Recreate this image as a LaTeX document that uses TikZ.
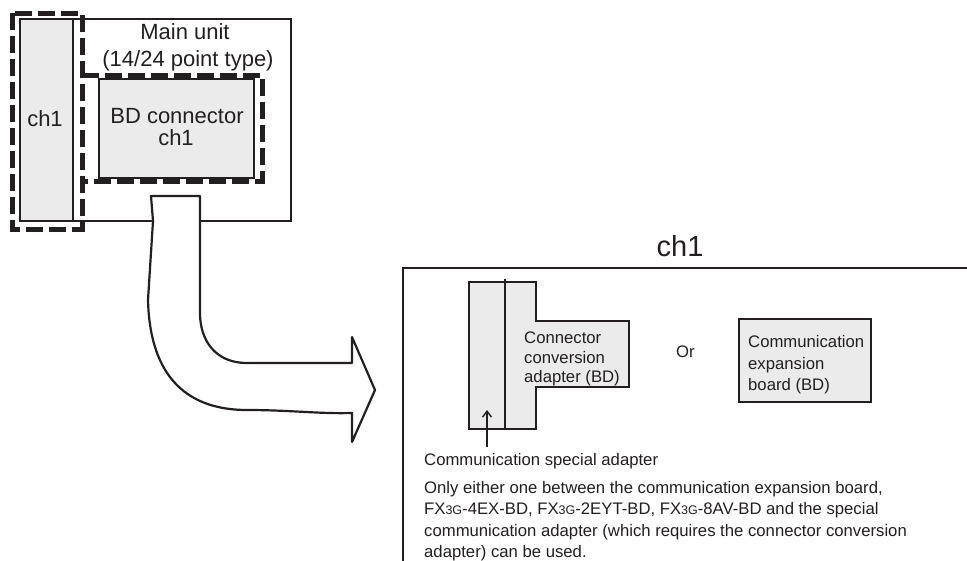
\documentclass[tikz,border=0pt]{standalone}
\usepackage{fontspec}
\setmainfont{Liberation Sans}
\usetikzlibrary{arrows.meta}
\definecolor{ink}{RGB}{35,31,32}
\definecolor{panel}{RGB}{235,235,235}
\newcommand{\smallsub}[1]{{\fontsize{12.5}{12.5}\selectfont #1}}
\tikzset{
  bigtxt/.style={inner sep=0pt, font=\fontsize{22}{22}\selectfont, text=ink},
  midtxt/.style={inner sep=0pt, font=\fontsize{16.7}{21.5}\selectfont, text=ink, align=left},
  titletxt/.style={inner sep=0pt, font=\fontsize{29}{29}\selectfont, text=ink},
  unitbox/.style={draw=ink, line width=2pt},
  greybox/.style={draw=ink, fill=panel, line width=2pt},
  thinbox/.style={draw=ink, fill=panel, line width=1.4pt},
  dashbox/.style={draw=ink, line width=5pt, dash pattern=on 17pt off 6pt},
  flowarrow/.style={draw=ink, fill=white, line width=2.2pt, line join=round},
}
\begin{document}
\begin{tikzpicture}[x=1pt,y=-1pt]
\useasboundingbox (0,0) rectangle (967,560);
% main unit
\draw[unitbox] (73,19) rectangle (291,221);
\draw[greybox] (20,19) rectangle (73,221);
\draw[greybox] (99,79) rectangle (254,178);
\draw[dashbox] (12,13) rectangle (82,229);
\draw[dashbox] (82,75) -- (262,75) -- (262,181) -- (82,181);
\node[bigtxt, anchor=base] (mainunit) at (185,39) {Main unit};
\node[bigtxt, anchor=base] (ptype) at (188,66) {(14/24 point type)};
\node[bigtxt, anchor=base] (bdconn) at (177,123) {BD connector};
\node[bigtxt, anchor=base] (bdch) at (176,145) {ch1};
\node[bigtxt, anchor=base] (leftch) at (45,126) {ch1};
% bent arrow
\draw[flowarrow] (151,196) -- (153,221) -- (148,300)
  .. controls (150,380) and (190,410) .. (247,410)
  .. controls (290,410) and (320,414) .. (352,413)
  -- (352,442) -- (375,390) -- (352,337) -- (352,363)
  -- (247,363) .. controls (215,363) and (200,340) .. (200,313)
  -- (200,196) -- cycle;
% ch1 panel
\node[titletxt, anchor=base] (title) at (680,256) {ch1};
\draw[unitbox] (975,268) -- (403,268) -- (403,570);
% adapter assembly
\draw[thinbox] (469,282) rectangle (505,429);
\draw[thinbox] (505,282) -- (536,282) -- (536,321) -- (629,321) -- (629,387)
  -- (536,387) -- (536,429) -- (505,429) -- cycle;
\draw[ink, line width=1.4pt] (505,279) -- (505,282);
\node[midtxt, anchor=base west] (conv1) at (524,343) {Connector};
\node[midtxt, anchor=base west] (conv2) at (524,363) {conversion};
\node[midtxt, anchor=base west] (conv3) at (524,382) {adapter (BD)};
\node[midtxt, anchor=base west] (ortext) at (676,357) {Or};
\draw[greybox] (739,319) rectangle (871,402);
\node[midtxt, anchor=base west] (exp1) at (748,347) {Communication};
\node[midtxt, anchor=base west] (exp2) at (748,369) {expansion};
\node[midtxt, anchor=base west] (exp3) at (748,390) {board (BD)};
\node[midtxt, anchor=base west] (special) at (424,465) {Communication special adapter};
\coordinate (arrfoot) at (487,447);
\coordinate (arrtip) at (487,410);
\draw[ink, line width=1.4pt, -{Straight Barb[length=6pt,width=9pt]}] (arrfoot) -- (arrtip);
\node[midtxt, anchor=base west] (para1) at (424,493) {Only either one between the communication expansion board,};
\node[midtxt, anchor=base west] (para2) at (424,514) {FX\smallsub{3G}-4EX-BD, FX\smallsub{3G}-2EYT-BD, FX\smallsub{3G}-8AV-BD and the special};
\node[midtxt, anchor=base west] (para3) at (424,536) {communication adapter (which requires the connector conversion};
\node[midtxt, anchor=base west] (para4) at (424,557) {adapter) can be used.};
\end{tikzpicture}
\end{document}
